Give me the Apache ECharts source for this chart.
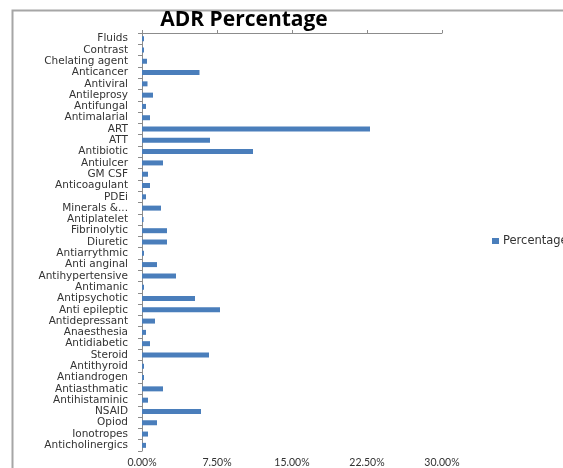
<!DOCTYPE html>
<html>
<head>
<meta charset="utf-8">
<script src="https://cdn.jsdelivr.net/npm/echarts@6/dist/echarts.min.js"></script>
<style>html,body{margin:0;padding:0;background:#fff;}#chart{width:563px;height:468px;}</style>
</head>
<body>
<div id="chart"></div>
<script>
const categories = ["Fluids","Contrast","Chelating agent","Anticancer","Antiviral","Antileprosy","Antifungal","Antimalarial","ART","ATT","Antibiotic","Antiulcer","GM CSF","Anticoagulant","PDEi","Minerals &...","Antiplatelet","Fibrinolytic","Diuretic","Antiarrythmic","Anti anginal","Antihypertensive","Antimanic","Antipsychotic","Anti epileptic","Antidepressant","Anaesthesia","Antidiabetic","Steroid","Antithyroid","Antiandrogen","Antiasthmatic","Antihistaminic","NSAID","Opiod","Ionotropes","Anticholinergics"];
const percentages = [0.2,0.2,0.5,5.75,0.55,1.1,0.4,0.8,22.8,6.8,11.1,2.1,0.6,0.8,0.4,1.9,0.15,2.5,2.5,0.2,1.5,3.4,0.2,5.3,7.8,1.3,0.4,0.8,6.7,0.2,0.2,2.1,0.6,5.9,1.5,0.6,0.4];
const seriesName = "Percentage";
const axisMin = 0, axisMax = 30, axisStep = 7.5;

const chart = echarts.init(document.getElementById('chart'), null, {renderer:'canvas'});
const font = 'DejaVu Sans';
chart.setOption({
  animation: false,
  backgroundColor: '#fff',
  graphic: [{
    type: 'rect', left: 10, top: 8, silent: true,
    shape: {width: 700, height: 700},
    style: {fill: 'none', stroke: '#a6a6a6', lineWidth: 2}
  }],
  title: {
    text: 'ADR Percentage', left: 239, top: 5, textAlign: 'center',
    textStyle: {fontFamily: 'Open Sans', fontWeight: 'bold', fontSize: 21, color: '#000'}
  },
  legend: {
    left: 487, top: 230, itemWidth: 7, itemHeight: 6, itemGap: 4,
    icon: 'rect', data: [seriesName],
    textStyle: {fontFamily: font, fontSize: 11.5, color: '#333', padding: [0,0,0,-1]}
  },
  grid: {left: 142, top: 33, right: 121, bottom: 15.7, containLabel: false},
  xAxis: [{
    type: 'value', position: 'top', min: axisMin, max: axisMax, interval: axisStep,
    axisLine: {show: true, lineStyle: {color: '#8c8c8c', width: 1}},
    axisTick: {show: true, length: 3, lineStyle: {color: '#8c8c8c'}},
    axisLabel: {show: false}, splitLine: {show: false}
  },{
    type: 'value', position: 'bottom', min: axisMin, max: axisMax, interval: axisStep,
    axisLine: {show: false}, axisTick: {show: false}, splitLine: {show: false},
    axisLabel: {show: true, margin: 6, fontFamily: 'Lato', fontSize: 10.5, color: '#333',
      formatter: v => v.toFixed(2) + '%'}
  }],
  yAxis: {
    type: 'category', data: categories, inverse: true,
    axisLine: {show: true, lineStyle: {color: '#8c8c8c'}},
    axisTick: {show: true, length: 4, lineStyle: {color: '#8c8c8c'}},
    axisLabel: {margin: 14, fontFamily: font, fontSize: 10.5, color: '#333', interval: 0},
    splitLine: {show: false}
  },
  series: [{
    name: seriesName, type: 'bar', xAxisIndex: 0, data: percentages,
    barWidth: 5, itemStyle: {color: '#4a7ebb'}
  }]
});
</script>
</body>
</html>
